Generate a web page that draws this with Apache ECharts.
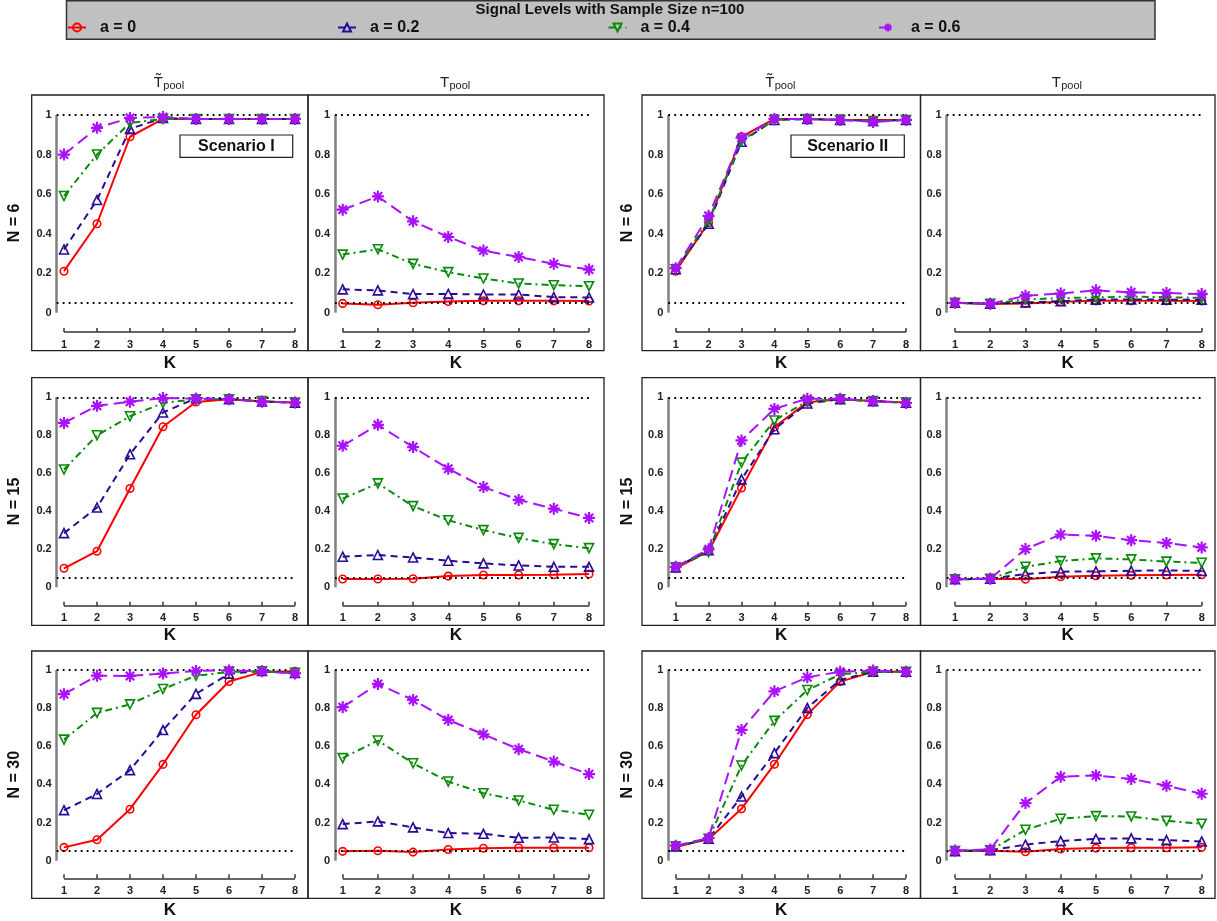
<!DOCTYPE html>
<html><head><meta charset="utf-8">
<script src="https://cdn.jsdelivr.net/npm/echarts@6/dist/echarts.min.js"></script>
<style>html,body{margin:0;padding:0;background:#fff}#c{width:1217px;height:921px}</style>
</head><body><div id="c"></div><script>
// ---------------- DATA ----------------
const K = [1, 2, 3, 4, 5, 6, 7, 8];
const signalLevels = ['a = 0', 'a = 0.2', 'a = 0.4', 'a = 0.6'];
const rowLabels = ['N = 6', 'N = 15', 'N = 30'];
const yTickValues = [0, 0.2, 0.4, 0.6, 0.8, 1];
const refLevels = [1, 0.05];
const scenarioLabels = ['Scenario I', 'Scenario II'];
const legendTitle = 'Signal Levels with Sample Size n=100';

// Scenario I, T~pool  (rows: a=0, a=0.2, a=0.4, a=0.6)
const scen1TildeN6 = [
  [0.21, 0.45, 0.89, 0.98, 0.98, 0.98, 0.98, 0.98],
  [0.32, 0.57, 0.93, 0.985, 0.98, 0.98, 0.98, 0.98],
  [0.59, 0.80, 0.96, 0.98, 0.98, 0.98, 0.98, 0.98],
  [0.80, 0.935, 0.985, 0.99, 0.98, 0.98, 0.98, 0.98]
];
const scen1TildeN15 = [
  [0.10, 0.19, 0.52, 0.845, 0.975, 0.99, 0.978, 0.972],
  [0.285, 0.42, 0.70, 0.92, 0.995, 0.99, 0.978, 0.972],
  [0.62, 0.80, 0.90, 0.97, 0.99, 0.99, 0.98, 0.972],
  [0.865, 0.955, 0.977, 0.996, 0.993, 0.99, 0.977, 0.972]
];
const scen1TildeN30 = [
  [0.07, 0.11, 0.27, 0.505, 0.765, 0.94, 0.99, 0.993],
  [0.265, 0.35, 0.475, 0.685, 0.875, 0.98, 0.995, 0.985],
  [0.635, 0.775, 0.82, 0.90, 0.97, 0.99, 0.993, 0.985],
  [0.873, 0.97, 0.969, 0.981, 0.995, 0.998, 0.993, 0.982]
];
// Scenario I, Tpool
const scen1PoolN6 = [
  [0.047, 0.04, 0.05, 0.057, 0.06, 0.06, 0.06, 0.059],
  [0.118, 0.113, 0.094, 0.095, 0.092, 0.092, 0.079, 0.077],
  [0.294, 0.321, 0.247, 0.205, 0.173, 0.148, 0.139, 0.134],
  [0.521, 0.588, 0.462, 0.383, 0.314, 0.282, 0.247, 0.218]
];
const scen1PoolN15 = [
  [0.044, 0.044, 0.045, 0.059, 0.065, 0.065, 0.066, 0.07],
  [0.161, 0.17, 0.157, 0.14, 0.126, 0.115, 0.108, 0.108],
  [0.467, 0.547, 0.427, 0.353, 0.301, 0.26, 0.227, 0.206],
  [0.745, 0.855, 0.738, 0.624, 0.528, 0.46, 0.414, 0.365]
];
const scen1PoolN30 = [
  [0.049, 0.052, 0.045, 0.059, 0.065, 0.068, 0.068, 0.068],
  [0.192, 0.206, 0.175, 0.145, 0.141, 0.12, 0.122, 0.113],
  [0.538, 0.63, 0.511, 0.415, 0.354, 0.316, 0.267, 0.241],
  [0.805, 0.927, 0.843, 0.738, 0.663, 0.585, 0.52, 0.454]
];
// Scenario II, T~pool
const scen2TildeN6 = [
  [0.21, 0.455, 0.89, 0.98, 0.98, 0.975, 0.975, 0.975],
  [0.22, 0.45, 0.865, 0.975, 0.98, 0.975, 0.97, 0.975],
  [0.22, 0.465, 0.87, 0.975, 0.98, 0.975, 0.97, 0.975],
  [0.225, 0.49, 0.885, 0.98, 0.98, 0.975, 0.965, 0.975]
];
const scen2TildeN15 = [
  [0.10, 0.19, 0.523, 0.843, 0.974, 0.99, 0.98, 0.972],
  [0.105, 0.195, 0.568, 0.832, 0.967, 0.99, 0.98, 0.972],
  [0.105, 0.185, 0.656, 0.878, 0.979, 0.99, 0.98, 0.972],
  [0.108, 0.20, 0.773, 0.939, 0.993, 0.993, 0.98, 0.97]
];
const scen2TildeN30 = [
  [0.072, 0.113, 0.272, 0.506, 0.766, 0.939, 0.991, 0.991],
  [0.075, 0.115, 0.337, 0.564, 0.801, 0.948, 0.991, 0.991],
  [0.075, 0.115, 0.499, 0.733, 0.895, 0.977, 0.991, 0.991],
  [0.079, 0.119, 0.686, 0.888, 0.962, 0.991, 0.997, 0.991]
];
// Scenario II, Tpool
const scen2PoolN6 = [
  [0.05, 0.044, 0.047, 0.056, 0.06, 0.06, 0.06, 0.059],
  [0.05, 0.045, 0.052, 0.058, 0.066, 0.067, 0.066, 0.066],
  [0.05, 0.045, 0.067, 0.074, 0.077, 0.082, 0.078, 0.075],
  [0.05, 0.045, 0.086, 0.097, 0.113, 0.103, 0.10, 0.094]
];
const scen2PoolN15 = [
  [0.042, 0.045, 0.042, 0.056, 0.061, 0.063, 0.065, 0.066],
  [0.042, 0.045, 0.07, 0.082, 0.084, 0.087, 0.089, 0.086],
  [0.042, 0.045, 0.108, 0.138, 0.152, 0.147, 0.135, 0.129],
  [0.042, 0.045, 0.201, 0.278, 0.271, 0.248, 0.233, 0.21]
];
const scen2PoolN30 = [
  [0.052, 0.052, 0.047, 0.061, 0.066, 0.068, 0.068, 0.07],
  [0.05, 0.055, 0.084, 0.103, 0.115, 0.117, 0.108, 0.101],
  [0.05, 0.055, 0.162, 0.22, 0.234, 0.232, 0.209, 0.194],
  [0.054, 0.059, 0.302, 0.44, 0.447, 0.429, 0.393, 0.351]
];

const panels = [
  [scen1TildeN6, scen1PoolN6, scen2TildeN6, scen2PoolN6],
  [scen1TildeN15, scen1PoolN15, scen2TildeN15, scen2PoolN15],
  [scen1TildeN30, scen1PoolN30, scen2TildeN30, scen2PoolN30]
];

// ---------------- LAYOUT / STYLE ----------------
const FONT = '"Liberation Sans", Arial, Helvetica, sans-serif';
const cols = [
  { box0: 31.7, box1: 308, ax: 56.7, k1: 64, k8: 295, tilde: true },
  { box0: 308, box1: 604, ax: 335, k1: 342.7, k8: 589, tilde: false },
  { box0: 642, box1: 920.5, ax: 668.3, k1: 675.7, k8: 906, tilde: true },
  { box0: 920.5, box1: 1215, ax: 946.7, k1: 955, k8: 1201.7, tilde: false }
];
const rows = [
  { top: 95, bottom: 350.7, y1: 115, y0: 312.7, axis: 332, kY: 363 },
  { top: 377.7, bottom: 625.3, y1: 397.3, y0: 587.3, axis: 605.7, kY: 635.5 },
  { top: 651, bottom: 898.3, y1: 670, y0: 860.7, axis: 878.3, kY: 910 }
];
const asterisk = 'path://M5,0L5,10M0,5L10,5M1.5,1.5L8.5,8.5M1.5,8.5L8.5,1.5';
const styles = [
  { color: '#ff0000', symbol: 'circle', size: 7.5, rotate: 0, dash: 'solid', bw: 1.6 },
  { color: '#2a0a96', symbol: 'triangle', size: 9, rotate: 0, dash: [7, 5], bw: 1.6 },
  { color: '#0a8a0a', symbol: 'triangle', size: 9, rotate: 180, dash: [7, 4, 2, 4], bw: 1.6 },
  { color: '#aa11ff', symbol: asterisk, size: 12, rotate: 0, dash: [12, 6], bw: 2.2 }
];
const legendLeft = [67, 337, 607.5, 878];

const grid = [], xAxis = [], yAxis = [], series = [], graphic = [];
const labelStyle = { fontSize: 11, fontWeight: 'bold', color: '#222', fontFamily: FONT };

rows.forEach((r, ri) => cols.forEach((c, ci) => {
  const idx = grid.length;
  const pxPerK = (c.k8 - c.k1) / 7;
  const xmin = 1 - (c.k1 - c.ax) / pxPerK;
  const ymin = -(r.axis - r.y0) / (r.y0 - r.y1);
  grid.push({ left: c.ax, width: c.k8 - c.ax, top: r.y1, height: r.axis - r.y1, containLabel: false, outerBoundsMode: 'none' });
  xAxis.push({
    gridIndex: idx, type: 'value', min: xmin, max: 8, position: 'bottom',
    axisLine: { show: false, onZero: false }, splitLine: { show: false },
    axisTick: { show: true, inside: true, length: 4, customValues: K, lineStyle: { color: '#333', width: 1.5 } },
    axisLabel: Object.assign({ customValues: K, margin: 7 }, labelStyle)
  });
  yAxis.push({
    gridIndex: idx, type: 'value', min: ymin, max: 1, position: 'left',
    axisLine: { show: false, onZero: false }, axisTick: { show: false }, splitLine: { show: false },
    axisLabel: Object.assign({ customValues: yTickValues, margin: 5 }, labelStyle)
  });
  const ml = [
    [{ coord: [xmin, 0], lineStyle: { color: '#808080', width: 2.5, type: 'solid' } }, { coord: [xmin, 1], lineStyle: { color: '#808080', width: 2.5, type: 'solid' } }],
    [{ coord: [1, ymin], lineStyle: { color: '#333', width: 1.5, type: 'solid' } }, { coord: [8, ymin], lineStyle: { color: '#333', width: 1.5, type: 'solid' } }]
  ];
  refLevels.forEach(v => ml.push([
    { coord: [xmin, v], lineStyle: { color: '#000', width: 1.8, type: [1.8, 4.2] } },
    { coord: [8, v], lineStyle: { color: '#000', width: 1.8, type: [1.8, 4.2] } }
  ]));
  series.push({
    type: 'line', xAxisIndex: idx, yAxisIndex: idx, data: [], silent: true, z: 1, clip: false,
    markLine: { silent: true, symbol: ['none', 'none'], animation: false, label: { show: false }, emphasis: { disabled: true }, data: ml }
  });
  panels[ri][ci].forEach((vals, si) => {
    const st = styles[si];
    series.push({
      type: 'line', name: signalLevels[si], xAxisIndex: idx, yAxisIndex: idx,
      data: K.map((k, i) => [k, vals[i]]),
      symbol: st.symbol, symbolSize: st.size, symbolRotate: st.rotate, showSymbol: true, showAllSymbol: true,
      lineStyle: { color: st.color, width: 2, type: st.dash },
      itemStyle: { color: 'rgba(255,255,255,0)', borderColor: st.color, borderWidth: st.bw },
      z: 3 + si, clip: false, emphasis: { disabled: true }
    });
  });
  // frame
  graphic.push({ type: 'rect', silent: true, z: 0, shape: { x: c.box0, y: r.top, width: c.box1 - c.box0, height: r.bottom - r.top }, style: { fill: 'none', stroke: '#222', lineWidth: 1.3 } });
  // K label
  graphic.push({ type: 'text', silent: true, x: (c.box0 + c.box1) / 2, y: r.kY, style: { text: 'K', fontSize: 17, fontWeight: 'bold', fontFamily: FONT, fill: '#111', align: 'center', verticalAlign: 'middle' } });
  // row label
  if (ci % 2 === 0) {
    graphic.push({ type: 'text', silent: true, x: ci === 0 ? 15 : 628, y: (r.top + r.bottom) / 2, rotation: Math.PI / 2, style: { text: rowLabels[ri], fontSize: 16, fontWeight: 'bold', fontFamily: FONT, fill: '#111', align: 'center', verticalAlign: 'middle' } });
  }
}));

// column titles
cols.forEach(c => {
  const cx = (c.box0 + c.box1) / 2;
  graphic.push({ type: 'text', silent: true, x: cx - 16, y: 82.5, style: { text: c.tilde ? 'T\u0303' : 'T', fontSize: 15, fontFamily: FONT, fill: '#222', align: 'left', verticalAlign: 'middle' } });
  graphic.push({ type: 'text', silent: true, x: cx - 6.5, y: 86, style: { text: 'pool', fontSize: 11, fontFamily: FONT, fill: '#222', align: 'left', verticalAlign: 'middle' } });
});

// scenario boxes
[{ x: 180, w: 112.7, label: scenarioLabels[0] }, { x: 791, w: 113.3, label: scenarioLabels[1] }].forEach(b => {
  graphic.push({ type: 'rect', silent: true, z: 10, shape: { x: b.x, y: 135, width: b.w, height: 22.3 }, style: { fill: '#fff', stroke: '#222', lineWidth: 1.2 } });
  graphic.push({ type: 'text', silent: true, z: 11, x: b.x + b.w / 2, y: 146.5, style: { text: b.label, fontSize: 16, fontWeight: 'bold', fontFamily: FONT, fill: '#111', align: 'center', verticalAlign: 'middle' } });
});

// legend background + title
graphic.push({ type: 'rect', silent: true, z: 0, shape: { x: 66.5, y: 0.75, width: 1088.5, height: 38.5 }, style: { fill: '#c0c0c0', stroke: '#333', lineWidth: 1.5 } });
graphic.push({ type: 'text', silent: true, z: 1, x: 610, y: 9.5, style: { text: legendTitle, fontSize: 15, fontWeight: 'bold', fontFamily: FONT, fill: '#111', align: 'center', verticalAlign: 'middle' } });

const legend = signalLevels.map((name, i) => ({
  data: [name], left: legendLeft[i], top: 19.5, padding: 0, orient: 'horizontal',
  itemWidth: 18, itemHeight: 10, selectedMode: false, z: 5,
  textStyle: { fontSize: 16, fontWeight: 'bold', color: '#111', fontFamily: FONT, padding: [0, 0, 0, 9] }
}));

const chart = echarts.init(document.getElementById('c'), null, { renderer: 'canvas', width: 1217, height: 921 });
chart.setOption({
  animation: false,
  backgroundColor: '#fff',
  textStyle: { fontFamily: FONT },
  legend, grid, xAxis, yAxis, series, graphic
});
</script></body></html>
